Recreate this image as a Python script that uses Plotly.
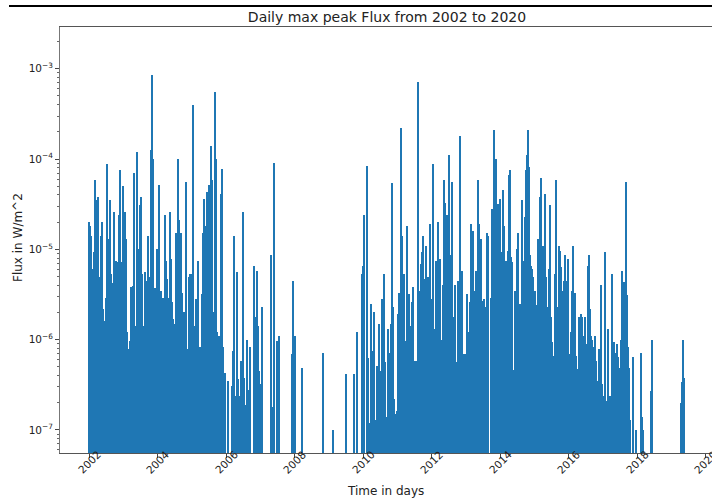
import datetime as dt
import plotly.graph_objects as go

# ---- data (decimal year, daily max peak flux in W/m^2) ----
years = [
    2002.00, 2002.02, 2002.05, 2002.07, 2002.12, 2002.15, 2002.18, 2002.22, 2002.23, 2002.27,
    2002.29, 2002.34, 2002.38, 2002.41, 2002.45, 2002.48, 2002.50, 2002.53, 2002.55, 2002.58,
    2002.61, 2002.65, 2002.68, 2002.70, 2002.73, 2002.77, 2002.82, 2002.86, 2002.89, 2002.92,
    2002.96, 2002.98, 2002.99, 2003.01, 2003.04, 2003.07, 2003.10, 2003.14, 2003.18, 2003.21,
    2003.24, 2003.27, 2003.29, 2003.31, 2003.34, 2003.37, 2003.40, 2003.43, 2003.46, 2003.49,
    2003.52, 2003.55, 2003.58, 2003.60, 2003.64, 2003.69, 2003.72, 2003.75, 2003.78, 2003.81,
    2003.84, 2003.87, 2003.91, 2003.97, 2004.00, 2004.03, 2004.04, 2004.09, 2004.11, 2004.15,
    2004.18, 2004.22, 2004.24, 2004.27, 2004.31, 2004.34, 2004.37, 2004.39, 2004.42, 2004.45,
    2004.50, 2004.54, 2004.57, 2004.60, 2004.63, 2004.67, 2004.71, 2004.75, 2004.77, 2004.80,
    2004.83, 2004.86, 2004.90, 2004.94, 2004.98, 2005.01, 2005.04, 2005.08, 2005.11, 2005.14,
    2005.17, 2005.21, 2005.25, 2005.28, 2005.31, 2005.35, 2005.39, 2005.43, 2005.47, 2005.50,
    2005.55, 2005.57, 2005.60, 2005.64, 2005.67, 2005.70, 2005.74, 2005.77, 2005.80, 2005.84,
    2005.88, 2005.91, 2005.94, 2005.98, 2006.04, 2006.18, 2006.21, 2006.23, 2006.28, 2006.31,
    2006.34, 2006.38, 2006.42, 2006.45, 2006.48, 2006.52, 2006.56, 2006.60, 2006.64, 2006.68,
    2006.71, 2006.82, 2006.85, 2006.89, 2006.93, 2006.97, 2006.99, 2007.04, 2007.06, 2007.31,
    2007.36, 2007.41, 2007.49, 2007.53, 2007.91, 2007.94, 2008.02, 2008.23, 2008.83, 2009.11,
    2009.50, 2009.73, 2009.81, 2009.96, 2009.99, 2010.00, 2010.04, 2010.10, 2010.15, 2010.18,
    2010.22, 2010.26, 2010.33, 2010.38, 2010.41, 2010.45, 2010.50, 2010.56, 2010.61, 2010.64,
    2010.68, 2010.72, 2010.75, 2010.80, 2010.84, 2010.86, 2010.90, 2010.94, 2010.98, 2011.01,
    2011.04, 2011.07, 2011.12, 2011.15, 2011.19, 2011.22, 2011.25, 2011.29, 2011.33, 2011.37,
    2011.40, 2011.43, 2011.46, 2011.51, 2011.54, 2011.59, 2011.63, 2011.68, 2011.72, 2011.75,
    2011.80, 2011.84, 2011.89, 2011.93, 2011.96, 2011.99, 2012.03, 2012.05, 2012.10, 2012.13,
    2012.16, 2012.19, 2012.22, 2012.25, 2012.29, 2012.33, 2012.36, 2012.40, 2012.44, 2012.47,
    2012.51, 2012.53, 2012.57, 2012.61, 2012.65, 2012.68, 2012.72, 2012.75, 2012.78, 2012.82,
    2012.85, 2012.89, 2012.93, 2012.96, 2013.00, 2013.04, 2013.08, 2013.12, 2013.14, 2013.18,
    2013.22, 2013.24, 2013.27, 2013.31, 2013.34, 2013.37, 2013.41, 2013.44, 2013.48, 2013.52,
    2013.56, 2013.61, 2013.64, 2013.72, 2013.76, 2013.80, 2013.82, 2013.85, 2013.88, 2013.91,
    2013.95, 2013.99, 2014.02, 2014.05, 2014.08, 2014.11, 2014.15, 2014.18, 2014.22, 2014.25,
    2014.28, 2014.32, 2014.36, 2014.40, 2014.44, 2014.48, 2014.51, 2014.58, 2014.62, 2014.64,
    2014.68, 2014.72, 2014.75, 2014.79, 2014.82, 2014.84, 2014.87, 2014.90, 2014.94, 2014.97,
    2015.01, 2015.04, 2015.07, 2015.10, 2015.13, 2015.16, 2015.19, 2015.22, 2015.26, 2015.29,
    2015.32, 2015.35, 2015.39, 2015.43, 2015.46, 2015.48, 2015.51, 2015.55, 2015.58, 2015.61,
    2015.64, 2015.67, 2015.71, 2015.74, 2015.77, 2015.81, 2015.84, 2015.87, 2015.90, 2015.93,
    2015.96, 2015.99, 2016.02, 2016.06, 2016.09, 2016.12, 2016.16, 2016.19, 2016.21, 2016.24,
    2016.28, 2016.31, 2016.35, 2016.38, 2016.41, 2016.44, 2016.48, 2016.51, 2016.54, 2016.56,
    2016.59, 2016.62, 2016.65, 2016.69, 2016.72, 2016.76, 2016.79, 2016.82, 2016.85, 2016.88,
    2016.92, 2016.94, 2016.97, 2017.00, 2017.03, 2017.06, 2017.09, 2017.12, 2017.15, 2017.18,
    2017.21, 2017.24, 2017.27, 2017.30, 2017.32, 2017.35, 2017.38, 2017.41, 2017.44, 2017.47,
    2017.50, 2017.53, 2017.56, 2017.59, 2017.62, 2017.65, 2017.68, 2017.71, 2017.74, 2017.77,
    2017.80, 2017.89, 2017.98, 2018.11, 2018.15, 2018.18, 2018.41, 2018.45, 2019.29, 2019.32,
    2019.35, 2019.38,
]

flux = [
    2.0e-5, 1.8e-5, 1.4e-5, 6.1e-6, 1.9e-6, 9.3e-6, 5.9e-5, 6.3e-6, 3.5e-5, 3.8e-5,
    4.9e-6, 1.4e-5, 2.0e-5, 2.2e-6, 1.6e-6, 2.9e-6, 1.2e-6, 8.8e-5, 1.3e-5, 2.4e-6,
    3.5e-5, 5.4e-6, 4.2e-6, 3.2e-6, 2.6e-5, 7.5e-6, 7.2e-6, 2.4e-5, 7.6e-5, 7.2e-6,
    4.0e-6, 1.0e-6, 5.0e-5, 6.6e-7, 2.6e-5, 1.3e-5, 1.2e-6, 7.9e-7, 9.7e-7, 3.8e-6,
    2.0e-6, 3.9e-6, 7.5e-7, 7.0e-5, 1.4e-6, 1.4e-6, 1.2e-4, 1.0e-5, 3.1e-6, 3.1e-5,
    3.8e-5, 5.4e-6, 1.1e-6, 1.4e-6, 5.6e-6, 4.5e-6, 1.4e-5, 6.1e-7, 4.9e-6, 1.25e-4,
    8.5e-4, 1.0e-4, 3.7e-6, 1.0e-5, 7.2e-6, 3.3e-5, 5.1e-5, 3.5e-6, 3.7e-7, 2.9e-6,
    8.6e-7, 2.4e-5, 7.5e-6, 4.7e-6, 2.9e-6, 5.6e-7, 2.6e-5, 7.9e-6, 2.6e-6, 1.7e-6,
    1.5e-6, 1.5e-5, 4.5e-6, 1.0e-4, 2.1e-5, 1.5e-5, 3.3e-6, 1.6e-7, 2.0e-6, 1.8e-6,
    5.6e-5, 7.9e-7, 4.9e-6, 5.4e-6, 5.4e-6, 2.7e-6, 4.0e-4, 1.4e-6, 2.8e-6, 6.6e-7,
    7.5e-6, 2.8e-7, 8.2e-7, 3.2e-6, 1.5e-5, 3.6e-5, 1.8e-5, 4.3e-5, 4.1e-5, 5.1e-5,
    1.4e-4, 1.1e-6, 5.8e-5, 2.0e-6, 5.6e-4, 1.0e-4, 1.2e-6, 1.1e-6, 1.1e-6, 4.1e-5,
    7.8e-5, 8.2e-7, 4.0e-7, 4.3e-7, 3.5e-7, 3.1e-7, 7.5e-7, 1.4e-5, 2.4e-7, 5.6e-6,
    3.7e-7, 2.4e-7, 5.8e-7, 5.1e-7, 2.6e-5, 3.8e-7, 1.9e-7, 1.0e-6, 2.8e-7, 1.9e-7,
    8.2e-7, 6.6e-6, 1.8e-6, 5.8e-6, 1.4e-6, 4.5e-7, 3.2e-7, 2.3e-6, 1.5e-6, 8.6e-6,
    1.8e-7, 9.0e-5, 9.7e-7, 1.1e-6, 7.0e-7, 4.5e-6, 1.1e-6, 4.8e-7, 7.2e-7, 1.0e-7,
    4.2e-7, 4.2e-7, 1.2e-6, 5.4e-6, 6.6e-6, 1.0e-6, 2.4e-5, 8.3e-5, 6.3e-7, 1.2e-7,
    2.5e-6, 7.5e-7, 2.0e-6, 1.3e-7, 5.1e-7, 1.5e-6, 4.5e-7, 2.8e-6, 5.4e-6, 5.6e-7,
    1.4e-7, 1.3e-6, 7.2e-7, 1.5e-6, 5.4e-5, 2.3e-6, 2.2e-7, 1.5e-7, 1.6e-7, 1.9e-6,
    3.3e-6, 7.2e-7, 2.2e-4, 1.4e-5, 5.4e-6, 3.0e-7, 9.7e-7, 1.8e-5, 3.2e-6, 4.2e-7,
    1.4e-6, 2.6e-6, 3.8e-6, 5.8e-7, 5.8e-7, 7.1e-4, 3.5e-6, 6.9e-6, 9.3e-6, 1.4e-5,
    4.7e-6, 1.1e-5, 4.9e-6, 1.7e-6, 1.9e-5, 2.8e-6, 1.4e-5, 8.9e-5, 1.3e-6, 7.5e-6,
    5.8e-7, 2.0e-5, 4.3e-6, 7.9e-6, 1.0e-6, 4.0e-6, 5.8e-5, 3.3e-5, 2.4e-5, 2.1e-6,
    1.1e-4, 7.5e-6, 8.6e-6, 5.6e-5, 1.8e-6, 4.0e-6, 5.6e-7, 5.4e-7, 4.5e-6, 1.8e-4,
    4.5e-7, 5.8e-6, 6.9e-7, 6.9e-7, 6.1e-7, 3.2e-6, 1.2e-6, 2.6e-6, 1.9e-5, 2.2e-6,
    1.6e-5, 9.0e-7, 3.5e-6, 5.8e-6, 5.8e-5, 1.9e-5, 1.2e-6, 1.3e-5, 2.7e-6, 2.8e-6,
    2.3e-6, 1.5e-5, 1.4e-5, 2.9e-6, 2.8e-5, 5.8e-6, 2.1e-4, 6.3e-5, 1.0e-4, 2.0e-6,
    3.2e-5, 3.6e-5, 1.5e-6, 9.3e-6, 4.5e-5, 1.8e-5, 3.2e-6, 7.5e-6, 9.7e-6, 6.6e-5,
    7.5e-5, 8.2e-6, 7.2e-6, 4.6e-7, 3.5e-6, 1.0e-5, 1.5e-5, 2.5e-6, 6.9e-7, 3.5e-5,
    7.5e-6, 2.3e-5, 7.5e-5, 1.1e-4, 2.1e-4, 8.2e-5, 8.6e-6, 6.6e-6, 6.1e-6, 4.9e-6,
    3.5e-6, 1.9e-6, 2.4e-6, 1.3e-5, 1.3e-6, 3.8e-5, 6.1e-5, 1.0e-5, 1.1e-5, 4.2e-6,
    4.1e-5, 4.9e-6, 2.3e-6, 6.1e-6, 3.1e-5, 1.8e-6, 9.3e-7, 6.6e-7, 4.3e-7, 5.4e-6,
    5.8e-5, 2.3e-6, 1.1e-5, 9.7e-6, 6.3e-6, 3.5e-6, 1.8e-6, 4.5e-6, 8.6e-6, 4.5e-6,
    3.8e-6, 7.9e-6, 6.9e-7, 1.2e-6, 3.5e-6, 1.1e-5, 9.0e-7, 3.3e-6, 6.6e-7, 4.7e-7,
    4.7e-7, 1.8e-6, 1.9e-6, 1.8e-6, 1.1e-6, 8.2e-7, 1.8e-6, 3.4e-7, 9.0e-7, 6.6e-6,
    8.6e-6, 2.2e-6, 1.1e-6, 1.0e-6, 8.2e-7, 1.1e-6, 5.8e-7, 3.5e-7, 2.2e-7, 7.9e-7,
    2.8e-7, 4.0e-6, 3.2e-7, 2.3e-7, 2.4e-7, 9.3e-6, 2.1e-7, 1.7e-7, 1.3e-6, 1.6e-7,
    2.4e-7, 2.1e-7, 5.4e-6, 2.2e-7, 9.3e-7, 7.2e-7, 1.2e-7, 9.0e-7, 6.4e-7, 4.9e-7,
    4.5e-7, 1.0e-6, 5.8e-6, 3.2e-6, 4.3e-6, 3.8e-7, 5.6e-5, 3.1e-6, 8.2e-7, 4.9e-7,
    1.3e-7, 6.4e-7, 1.0e-7, 7.2e-7, 1.4e-7, 1.0e-7, 2.7e-7, 1.0e-6, 2.0e-7, 3.4e-7,
    1.0e-6, 3.8e-7,
]

tick_years = [2002, 2004, 2006, 2008, 2010, 2012, 2014, 2016, 2018, 2020]
tick_labels = [str(y) for y in tick_years]
y_major = [1e-7, 1e-6, 1e-5, 1e-4, 1e-3]
y_major_text = ["10<sup>\u22127</sup>", "10<sup>\u22126</sup>", "10<sup>\u22125</sup>",
                "10<sup>\u22124</sup>", "10<sup>\u22123</sup>"]

assert len(years) == len(flux)


def to_date(yf):
    yr = int(yf)
    start = dt.datetime(yr, 1, 1)
    end = dt.datetime(yr + 1, 1, 1)
    return start + (end - start) * (yf - yr)


dates = [to_date(v) for v in years]

# minor ticks 2..9 x 10^n
y_minor = [m * 10.0 ** e for e in range(-8, -2) for m in range(2, 10)]
y_minor = [v for v in y_minor if 5.5e-8 < v < 2.9e-3]

FONT = "DejaVu Sans"
BLUE = "#1f77b4"

fig = go.Figure()
fig.add_trace(go.Bar(
    x=dates, y=flux,
    width=[13 * 86400000] * len(dates),
    marker=dict(color=BLUE, line=dict(width=0)),
    showlegend=False,
    hoverinfo="skip",
))

W, H = 712, 498
L, R, T, B = 60, 0, 27, 45
pw, ph = W - L - R, H - T - B


def px_x(p):
    return (p - L) / pw


def px_y(p):
    return (H - B - p) / ph


annotations = []
for ty, lab in zip(tick_years, tick_labels):
    annotations.append(dict(
        x=dt.datetime(ty, 1, 1), xref="x", y=px_y(462), yref="paper",
        text=lab, textangle=-45, showarrow=False, xanchor="center", yanchor="middle",
        font=dict(family=FONT, size=10.5, color="#222"),
    ))
annotations.append(dict(
    x=px_x(385), xref="paper", y=px_y(491), yref="paper", text="Time in days",
    showarrow=False, xanchor="center", yanchor="middle",
    font=dict(family=FONT, size=12, color="#222"),
))
annotations.append(dict(
    x=px_x(18), xref="paper", y=px_y(238), yref="paper", text="Flux in W/m^2",
    showarrow=False, xanchor="center", yanchor="middle", textangle=-90,
    font=dict(family=FONT, size=12, color="#222"),
))

fig.update_layout(
    width=W, height=H,
    margin=dict(l=L, r=R, t=T, b=B, pad=0),
    paper_bgcolor="white", plot_bgcolor="white",
    bargap=0,
    hovermode=False,
    title=dict(text="Daily max peak Flux from 2002 to 2020",
               x=px_x(387), xref="paper", xanchor="center",
               y=1 - 17 / H, yref="container", yanchor="middle",
               font=dict(family=FONT, size=14, color="#222")),
    annotations=annotations,
    shapes=[dict(type="rect", xref="paper", yref="paper", layer="above",
                 x0=px_x(9), x1=px_x(712), y0=px_y(7), y1=px_y(5),
                 fillcolor="black", line=dict(width=0))],
    xaxis=dict(
        type="date",
        range=[to_date(2001.144), to_date(2002 + (712 - 89.3) / 34.24)],
        tickvals=[dt.datetime(y, 1, 1) for y in tick_years],
        showticklabels=False,
        ticks="outside", ticklen=4, tickcolor="#444", tickwidth=1,
        showline=True, linecolor="#555", linewidth=1, mirror=True,
        showgrid=False, zeroline=False,
    ),
    yaxis=dict(
        type="log",
        range=[-7.256, -2.537],
        tickvals=y_major, ticktext=y_major_text,
        ticks="outside", ticklen=4, tickcolor="#444", tickwidth=1,
        tickfont=dict(family=FONT, size=10.5, color="#222"),
        minor=dict(tickvals=y_minor, ticks="outside", ticklen=2, tickcolor="#666", tickwidth=0.8),
        showline=True, linecolor="#777", linewidth=1, mirror=False,
        showgrid=False, zeroline=False,
    ),
)

fig.write_html("out.html", config={"displayModeBar": False},
               post_script="document.body.style.margin='0';")
